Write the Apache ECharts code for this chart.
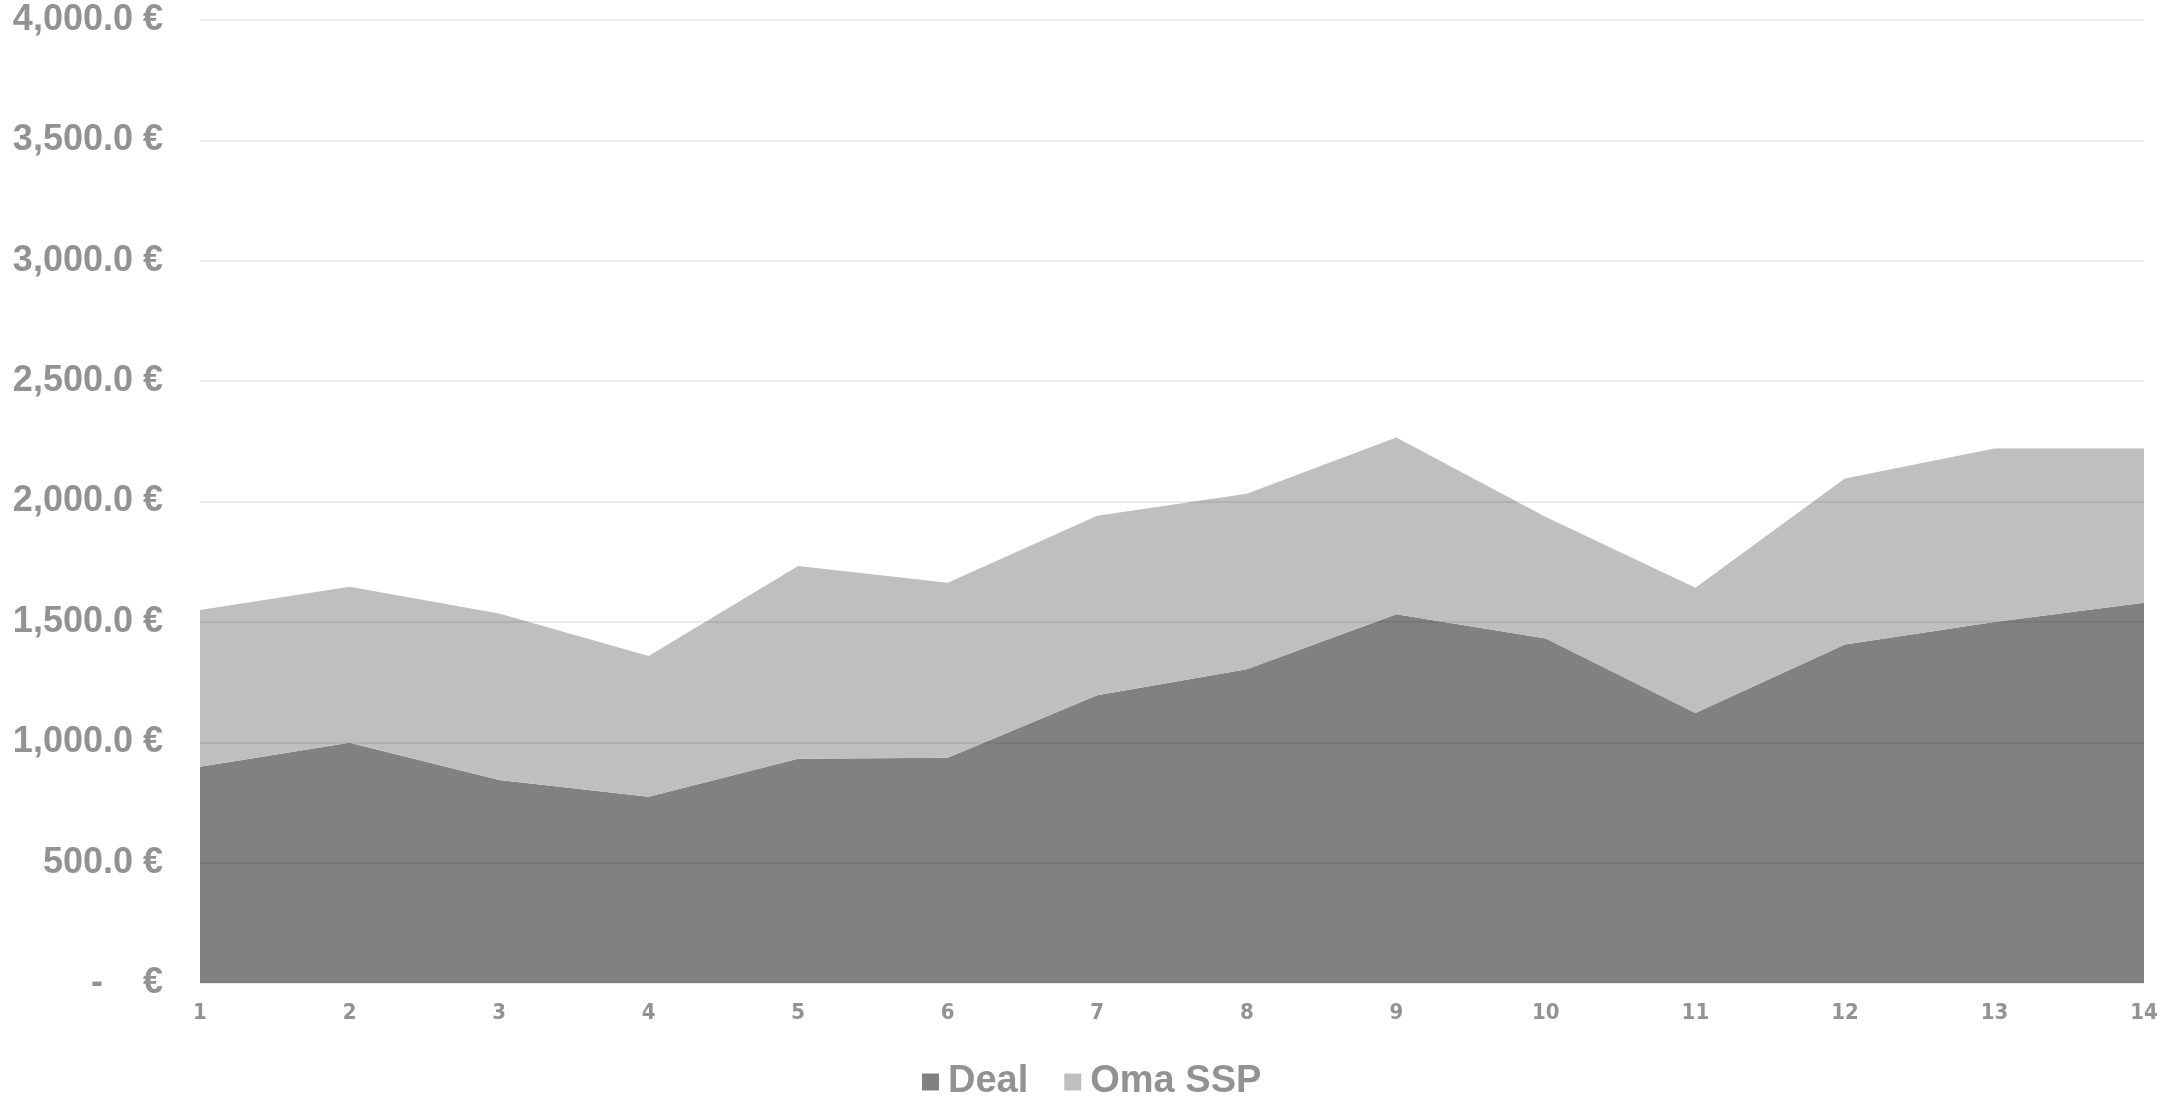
<!DOCTYPE html>
<html>
<head>
<meta charset="utf-8">
<script src="https://cdn.jsdelivr.net/npm/echarts@6/dist/echarts.min.js"></script>
<style>
html,body{margin:0;padding:0;background:#fff;}
#chart{width:2174px;height:1101px;}
</style>
</head>
<body>
<div id="chart"></div>
<script>
const categories = ['1','2','3','4','5','6','7','8','9','10','11','12','13','14'];
const dealValues = [898, 998, 843, 774, 931, 936, 1195, 1303, 1532, 1431, 1122, 1406, 1500, 1579];
const omaSspValues = [651, 648, 692, 584, 801, 726, 746, 729, 734, 505, 520, 690, 720, 641];
const seriesNames = ['Deal', 'Oma SSP'];

const chart = echarts.init(document.getElementById('chart'));
const textColor = '#929292';
chart.setOption({
  animation: false,
  backgroundColor: '#ffffff',
  grid: { left: 200, right: 30, top: 20, bottom: 118, containLabel: false },
  legend: {
    data: seriesNames,
    left: 917,
    top: 1058,
    itemWidth: 17,
    itemHeight: 17,
    itemGap: 36,
    icon: 'rect',
    textStyle: { color: textColor, fontSize: 38, fontWeight: 'bold', fontFamily: 'Liberation Sans', padding: [0,0,0,4] }
  },
  xAxis: {
    type: 'category',
    data: categories,
    boundaryGap: false,
    axisLine: { show: false },
    axisTick: { show: false },
    axisLabel: { color: textColor, fontSize: 22, fontWeight: 'bold', fontFamily: '"DejaVu Sans Condensed", "Liberation Sans", sans-serif', margin: 19 }
  },
  yAxis: {
    type: 'value',
    min: 0, max: 4000, interval: 500,
    z: 10,
    axisLine: { show: false },
    axisTick: { show: false },
    splitLine: { lineStyle: { color: 'rgba(0,0,0,0.075)', width: 2 } },
    axisLabel: {
      color: textColor, fontSize: 36, fontWeight: 'bold', fontFamily: 'Liberation Sans', margin: 37,
      formatter: function (v) {
        if (v === 0) return '-    €';
        return v.toLocaleString('en-US', { minimumFractionDigits: 1, maximumFractionDigits: 1 }) + ' €';
      }
    }
  },
  series: [
    {
      name: seriesNames[0], type: 'line', stack: 'total', data: dealValues,
      symbol: 'none', lineStyle: { width: 0 }, itemStyle: { color: '#808183' },
      areaStyle: { color: '#808183', opacity: 1 }
    },
    {
      name: seriesNames[1], type: 'line', stack: 'total', data: omaSspValues,
      symbol: 'none', lineStyle: { width: 0 }, itemStyle: { color: '#bfbfbf' },
      areaStyle: { color: '#bfbfbf', opacity: 1 }
    }
  ]
});
</script>
</body>
</html>
